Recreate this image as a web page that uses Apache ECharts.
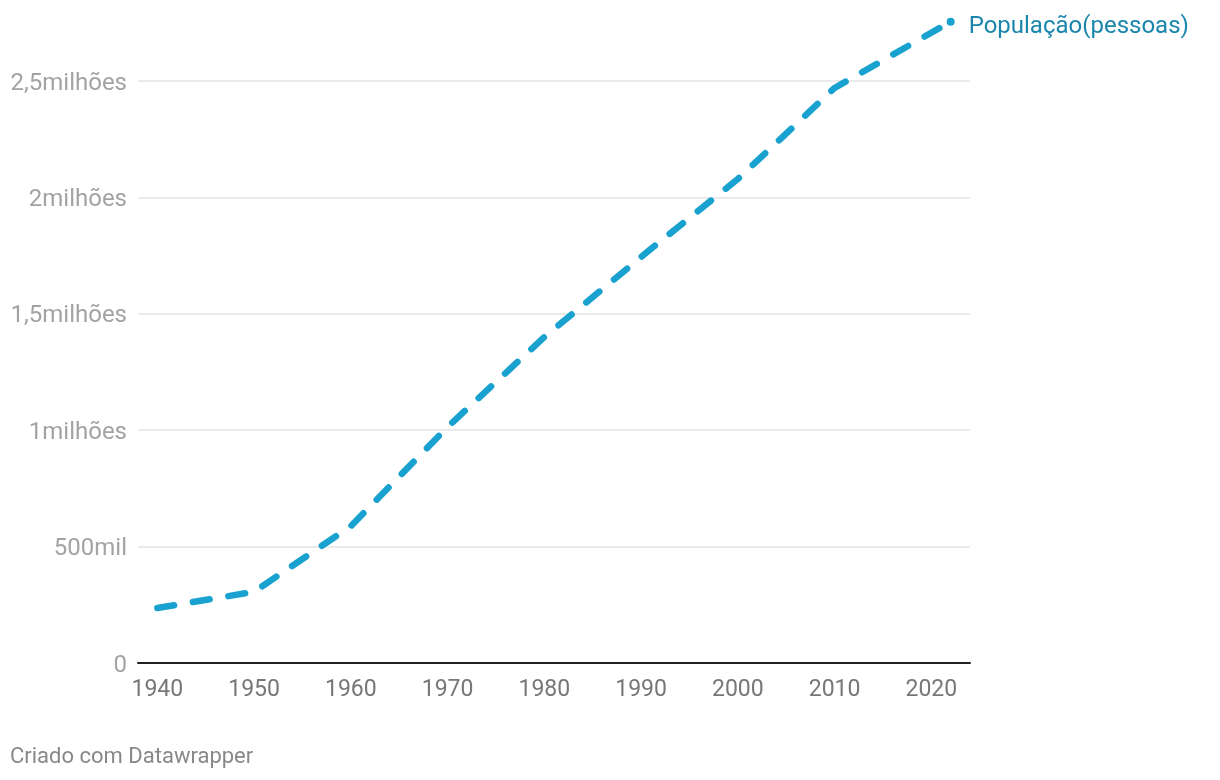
<!DOCTYPE html>
<html>
<head>
<meta charset="utf-8">
<script src="https://cdn.jsdelivr.net/npm/echarts@6/dist/echarts.min.js"></script>
<style>
html,body{margin:0;padding:0;background:#fff;}
#chart{width:1220px;height:780px;}
</style>
</head>
<body>
<div id="chart"></div>
<script>
const years = [1940, 1950, 1960, 1970, 1980, 1991, 2000, 2010, 2022];
const population = [236000, 306000, 588000, 1014000, 1400000, 1778000, 2079000, 2470000, 2755000];
const xTickYears = [1940, 1950, 1960, 1970, 1980, 1990, 2000, 2010, 2020];
const yTickValues = [0, 500000, 1000000, 1500000, 2000000, 2500000];
const yTickLabels = ['0', '500mil', '1milhões', '1,5milhões', '2milhões', '2,5milhões'];
const seriesName = 'População(pessoas)';
const footer = 'Criado com Datawrapper';

const chart = echarts.init(document.getElementById('chart'));
const font = 'Roboto';
const data = years.map((y, i) => {
  const item = { value: [y, population[i]] };
  if (i === years.length - 1) { item.symbol = 'circle'; item.symbolSize = 8; }
  return item;
});
chart.setOption({
  animation: false,
  textStyle: { fontFamily: font },
  title: {
    text: footer, left: 10, top: 746, padding: 0,
    textStyle: { fontFamily: font, fontSize: 22, fontWeight: 'normal', color: '#888888' }
  },
  grid: { left: 138, right: 250, top: 81, bottom: 117, containLabel: false },
  xAxis: {
    type: 'value', min: 1938, max: 2024,
    axisLine: { show: true, onZero: false, lineStyle: { color: '#222', width: 2 } },
    axisTick: { show: false },
    splitLine: { show: false },
    axisLabel: {
      customValues: xTickYears, margin: 16,
      fontFamily: font, fontSize: 23, color: '#777777',
      formatter: v => String(v)
    }
  },
  yAxis: {
    type: 'value', min: 0, max: 2500000, interval: 500000,
    axisLine: { show: false }, axisTick: { show: false },
    splitLine: { show: true, lineStyle: { color: '#e3e3e3', width: 1.5 } },
    axisLabel: {
      margin: 11, fontFamily: font, fontSize: 24, color: '#a3a3a3',
      rich: { t: { fontFamily: font, fontSize: 24, color: '#a3a3a3', padding: [5, 0, 0, 0] } },
      formatter: v => { const i = yTickValues.indexOf(v); return i >= 0 ? '{t|' + yTickLabels[i] + '}' : ''; }
    }
  },
  series: [{
    name: seriesName, type: 'line', data: data, clip: false,
    showSymbol: true, symbol: 'none',
    itemStyle: { color: '#19a2cf' },
    lineStyle: { color: '#19a2cf', width: 6.5, type: [17, 19], cap: 'round', join: 'round' },
    endLabel: {
      show: true, formatter: seriesName, distance: 18, offset: [0, 5],
      fontFamily: font, fontSize: 24, color: '#1a86ac'
    }
  }]
});
</script>
</body>
</html>
